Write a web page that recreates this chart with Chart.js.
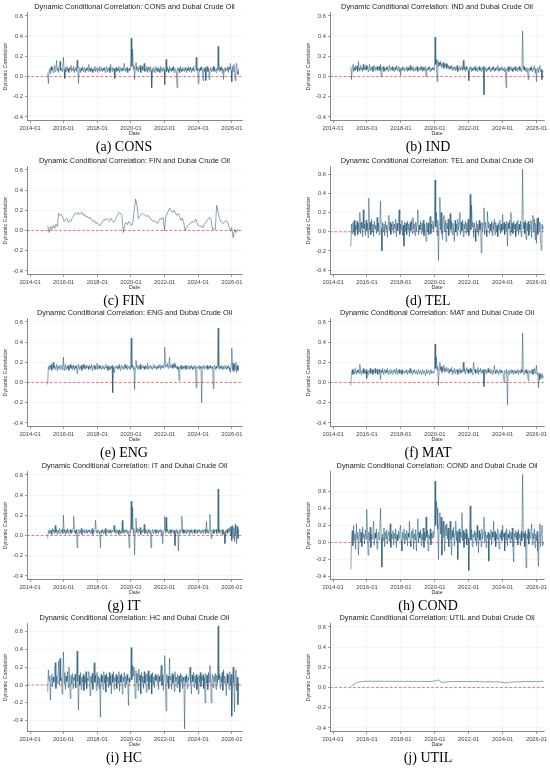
<!DOCTYPE html>
<html><head><meta charset="utf-8">
<script src="https://cdn.jsdelivr.net/npm/chart.js@4.4.1/dist/chart.umd.min.js"></script>
<style>
html,body{margin:0;padding:0;background:#fff;}
#fig{position:relative;width:550px;height:772px;overflow:hidden;background:#fff;}
#fig canvas{position:absolute;}
.cap{position:absolute;font-family:"Liberation Serif","Times New Roman",serif;font-size:14px;color:#000;white-space:nowrap;transform:translate(-50%,-50%);line-height:1;}
</style></head><body><div id="fig"></div>
<script>
// ---- axis ticks and date span ----
const xTicks = [2014, 2016, 2018, 2020, 2022, 2024, 2026];
const yTicks = [-0.4, -0.2, 0.0, 0.2, 0.4, 0.6];
const dateStart = 2015.05;
const dateEnd = 2026.40;

// ---- series values ----
const CONS = [
 0.04,-0.07,0.05,0.08,0.03,0.1,0.06,0.09,0.04,0.07,0.11,0.05,0.08,0.16,0.06,0.09,0.04,0.1,0.15,0.06,
 0.08,0.05,0.1,0.19,0.07,-0.02,0.09,0.05,0.1,0.06,0.08,0.04,0.09,0.07,0.11,0.05,0.08,0.06,0.1,0.04,
 0.07,0.09,0.05,0.16,0.08,-0.07,0.06,0.09,0.04,0.08,0.06,0.1,0.05,0.07,0.09,0.04,0.08,0.06,0.09,0.05,
 0.12,0.06,0.08,0.05,0.09,0.07,0.04,0.08,0.06,0.1,0.05,0.07,0.09,0.04,0.08,0.06,0.1,0.05,0.07,0.09,
 0.05,0.08,0.06,0.09,0.04,0.07,0.1,0.05,0.08,0.06,0.09,0.04,0.12,0.07,0.05,0.09,0.06,0.08,-0.02,0.07,
 0.09,0.05,0.08,0.06,0.1,0.04,0.07,0.09,0.05,0.08,0.06,0.1,0.13,0.05,0.08,0.06,0.09,0.04,0.07,0.08,
 0.06,0.09,0.38,0.1,0.27,0.07,0.11,-0.03,0.08,0.14,0.06,0.1,0.05,0.09,0.07,0.11,0.04,0.08,0.1,0.06,
 0.09,0.13,0.05,0.08,0.06,0.1,0.04,0.09,0.07,0.05,0.1,0.06,-0.11,0.08,0.05,0.09,0.07,0.04,0.1,0.06,
 0.08,0.05,0.09,0.07,0.04,0.1,0.06,0.08,0.05,0.09,0.07,-0.08,0.06,0.17,0.05,0.09,0.07,0.04,0.1,0.06,
 0.08,0.05,0.09,0.06,0.1,0.04,0.08,0.07,0.05,-0.11,0.09,0.06,0.08,0.04,0.1,0.07,0.05,0.09,0.06,0.08,
 0.05,0.09,0.07,0.04,0.08,0.06,0.1,0.05,0.09,0.07,0.04,0.08,0.06,0.1,0.05,0.07,0.09,0.19,0.06,0.08,
 -0.07,0.08,0.05,0.09,0.06,0.1,0.07,-0.04,0.08,0.05,0.09,-0.04,0.07,0.1,0.05,0.08,-0.03,0.06,0.09,0.05,
 0.08,0.06,0.1,0.05,0.09,0.07,0.04,0.08,0.06,0.3,0.07,0.05,0.09,0.06,0.1,0.04,0.08,-0.03,0.07,0.09,
 0.05,0.08,0.06,0.1,0.04,0.09,0.07,0.13,0.06,-0.05,0.1,0.05,0.12,0.07,-0.04,0.09,0.13,0.05,0.02,0.08
];
const IND = [
 0.1,-0.03,0.08,0.12,0.05,0.09,0.06,0.11,0.07,0.1,0.05,0.15,0.08,0.06,0.11,0.07,0.09,0.05,0.12,0.07,
 0.09,0.06,0.11,0.07,0.1,0.05,0.08,0.12,0.06,0.09,0.07,0.1,0.05,0.08,0.11,0.06,0.09,0.07,0.1,0.06,
 0.08,0.1,0.06,0.12,0.0,0.09,0.07,0.1,0.05,0.08,0.06,0.09,0.07,0.1,0.05,0.08,0.11,0.06,0.09,0.07,
 0.1,0.06,0.08,0.05,0.09,0.07,0.11,0.06,0.08,0.1,0.05,0.09,0.01,0.08,0.06,0.1,0.07,0.09,0.05,0.08,
 0.07,0.1,0.05,0.09,0.06,0.08,0.11,0.06,0.09,0.07,0.1,0.05,0.08,0.06,0.09,0.07,0.1,0.05,0.08,0.07,
 0.09,0.06,0.1,0.07,0.05,0.09,0.06,0.08,0.1,0.0,0.08,0.06,0.09,0.07,0.1,0.05,0.08,0.06,0.09,0.07,
 0.08,0.06,0.39,0.12,0.17,-0.05,0.16,0.1,0.14,0.11,0.15,0.09,0.13,0.1,0.14,0.08,0.12,0.1,0.13,0.08,
 0.12,0.08,0.11,0.07,0.1,0.08,0.11,0.06,0.09,0.07,0.1,0.06,0.09,0.07,0.11,0.05,0.08,0.07,0.1,0.06,
 0.08,0.1,0.06,0.16,0.07,0.09,0.05,0.1,0.07,0.08,0.06,-0.04,0.09,0.07,0.1,0.05,0.08,0.06,0.09,0.07,
 0.1,0.06,0.08,0.05,0.09,0.07,0.1,0.06,0.08,0.05,0.09,0.07,0.1,-0.18,0.07,0.09,0.05,0.08,0.06,0.09,
 0.07,0.1,0.05,0.08,0.06,0.09,0.07,0.1,0.05,0.08,0.06,0.09,0.07,0.11,0.05,0.08,0.06,0.09,0.07,0.1,
 0.06,0.08,0.05,0.09,0.07,-0.11,0.08,0.06,0.1,0.05,0.09,0.07,0.1,0.06,0.08,0.05,0.09,0.07,0.1,0.06,
 0.08,0.05,0.09,0.07,0.1,0.06,0.08,0.05,0.09,0.45,0.07,0.1,0.06,0.08,0.05,0.09,0.07,-0.03,0.08,0.06,
 0.09,0.06,0.1,0.05,0.08,0.07,0.11,0.04,0.08,-0.05,0.07,0.09,0.04,0.08,0.11,0.05,0.07,-0.03,0.06,0.05
];
const FIN = [
 0.05,-0.02,0.04,0.01,0.05,0.02,0.06,0.04,0.17,0.15,0.16,0.13,0.09,0.11,0.12,0.08,0.1,0.09,0.13,0.15,
 0.17,0.16,0.18,0.16,0.17,0.18,0.15,0.16,0.13,0.14,0.12,0.13,0.1,0.09,0.1,0.07,0.08,0.06,0.05,0.07,
 0.09,0.11,0.1,0.12,0.11,0.09,0.12,0.1,0.08,0.1,0.13,0.16,0.18,0.17,0.15,-0.02,0.05,0.08,0.06,0.09,
 0.07,0.05,0.08,0.2,0.31,0.25,0.12,0.14,0.16,0.17,0.16,0.15,0.14,0.15,0.13,0.12,0.1,0.09,0.1,0.08,
 0.07,0.1,0.12,0.11,0.13,0.0,0.14,0.17,0.2,0.22,0.19,0.18,0.2,0.17,0.15,0.17,0.14,0.1,0.12,0.08,
 0.0,0.03,0.05,0.06,0.07,0.09,0.08,0.1,0.11,0.06,0.05,0.04,0.05,0.03,0.06,0.08,0.1,0.12,0.13,0.1,
 0.01,0.02,0.01,0.25,0.19,0.12,0.09,0.08,0.07,0.09,0.1,0.08,0.04,0.0,0.03,-0.07,0.01,-0.02,0.01,0.0
];
const TEL = [
 -0.15,0.08,-0.02,0.1,0.0,0.12,-0.04,0.07,0.02,0.11,-0.03,0.09,0.01,0.2,-0.02,0.1,0.04,-0.05,0.23,0.03,
 0.08,-0.04,0.12,0.01,0.09,-0.06,0.35,0.02,0.1,-0.03,0.13,0.0,0.08,-0.05,0.11,0.03,0.07,-0.02,0.15,0.01,
 0.09,-0.03,0.12,0.32,0.04,-0.2,0.1,0.0,0.08,-0.04,0.11,0.02,0.07,-0.06,0.09,0.17,0.01,0.1,-0.03,0.08,
 0.02,0.11,-0.02,0.08,0.03,0.13,-0.05,0.09,0.01,0.1,0.23,-0.03,0.08,0.02,0.12,-0.04,0.07,-0.15,0.1,0.01,
 0.09,-0.03,0.11,0.02,0.08,-0.05,0.1,0.01,0.12,-0.02,0.15,0.03,0.08,-0.04,0.1,0.0,0.09,0.23,-0.03,0.07,
 0.02,0.11,-0.02,0.09,0.01,0.12,-0.04,0.08,0.03,-0.1,0.1,0.0,0.09,-0.03,0.12,0.16,-0.02,0.08,0.03,0.11,
 0.0,0.09,0.54,0.05,0.2,-0.04,0.12,-0.3,0.08,0.36,0.02,0.2,-0.02,-0.08,0.14,0.17,0.0,0.12,-0.1,0.09,
 0.03,0.13,-0.04,0.1,0.19,0.02,0.11,-0.03,0.09,0.01,-0.1,0.12,0.0,0.08,-0.04,0.13,0.02,0.09,0.2,-0.03,
 0.1,0.01,0.12,-0.05,0.08,0.03,0.11,-0.02,0.09,0.0,0.13,-0.04,0.07,0.39,0.02,0.28,0.05,0.1,-0.06,0.09,
 0.03,-0.1,0.11,0.0,0.08,-0.04,0.12,0.02,0.09,-0.22,0.1,0.01,0.08,0.25,-0.03,0.1,0.02,-0.05,0.21,0.04,
 0.1,-0.02,0.08,0.01,0.11,-0.04,0.09,0.02,0.13,-0.03,0.1,0.0,0.07,-0.05,0.09,0.02,0.12,-0.02,0.08,0.01,
 0.18,0.02,0.1,-0.03,0.08,0.01,0.11,-0.15,0.09,0.03,0.12,-0.04,0.2,0.0,0.09,-0.02,0.11,0.03,0.08,-0.05,
 0.1,0.01,0.12,-0.03,0.08,0.02,0.11,-0.05,0.09,0.65,0.03,0.1,-0.02,0.12,-0.08,0.09,0.01,0.11,-0.04,0.08,
 0.02,0.12,-0.06,0.1,0.17,0.0,0.13,-0.08,0.09,-0.12,0.14,-0.03,0.15,0.01,0.1,-0.09,-0.19,0.08,0.02,0.06
];
const ENG = [
 -0.02,0.16,0.13,0.17,0.14,0.18,0.12,0.16,0.2,0.14,0.17,0.13,0.15,0.18,0.12,0.16,0.14,0.17,0.13,0.15,
 0.17,0.13,0.16,0.25,0.12,0.15,0.18,0.13,0.16,0.14,0.17,0.12,0.15,0.18,0.14,0.16,0.13,0.17,0.15,0.12,
 0.16,0.14,0.17,0.09,0.15,0.18,0.13,0.16,0.14,0.17,0.12,0.15,0.18,0.14,0.16,0.13,0.17,0.15,0.14,0.16,
 0.13,0.17,0.15,0.14,0.18,0.12,0.16,0.15,0.17,0.13,0.16,0.14,0.19,0.13,0.15,0.17,0.14,0.16,0.13,0.15,
 0.17,0.14,0.16,0.13,0.15,0.18,0.14,0.16,0.12,0.17,0.15,0.13,0.16,0.14,0.17,-0.1,0.15,0.1,0.16,0.14,
 0.15,0.17,0.13,0.16,0.14,0.18,0.12,0.15,0.17,0.14,0.16,0.13,0.15,0.18,0.14,0.16,0.13,0.17,0.15,0.14,
 0.16,0.13,0.44,0.15,0.17,0.13,0.16,-0.07,0.14,0.22,0.15,0.17,0.13,0.16,0.14,0.18,0.13,0.16,0.15,0.17,
 0.14,0.16,0.13,0.17,0.15,0.14,0.19,0.13,0.16,0.15,0.17,0.14,0.16,0.13,0.15,0.18,0.14,0.16,0.15,0.13,
 0.16,0.14,0.17,0.15,0.18,0.13,0.16,0.15,0.17,0.14,0.18,0.35,0.15,0.17,0.16,0.19,0.14,0.17,0.25,0.15,
 0.17,0.15,0.18,0.14,0.16,0.19,0.15,0.17,0.14,0.16,0.13,0.15,0.02,0.16,0.14,0.17,0.13,0.15,0.16,0.14,
 0.15,0.17,0.13,0.16,0.14,0.17,0.15,0.13,0.16,0.14,0.17,0.15,0.13,0.16,0.14,0.17,0.15,-0.05,0.16,0.14,
 0.15,0.17,0.13,0.16,0.14,-0.2,0.16,0.15,0.17,0.13,0.15,0.16,0.14,0.17,0.13,0.15,0.16,0.14,0.17,0.15,
 0.14,0.16,-0.06,0.15,0.17,0.13,0.16,0.14,0.17,0.54,0.15,0.13,0.16,0.14,0.17,0.15,0.13,0.16,0.14,0.17,
 0.15,0.13,0.16,0.14,0.17,0.15,0.12,0.1,0.18,0.34,0.12,0.19,0.11,0.18,0.13,0.2,0.1,0.17,0.12,0.16
];
const MAT = [
 -0.03,0.1,0.13,0.08,0.12,0.09,0.14,0.11,0.08,0.12,0.1,0.13,0.09,0.18,0.11,0.08,0.12,0.1,0.14,0.09,
 0.12,0.09,0.13,0.04,0.11,0.08,0.12,0.1,0.14,0.09,0.11,0.13,0.08,0.12,0.1,0.14,0.09,0.11,0.13,0.08,
 0.11,0.13,0.09,0.03,0.12,0.1,0.14,0.08,0.11,0.13,0.09,0.12,0.1,0.14,0.08,0.11,0.12,0.09,0.13,0.1,
 0.08,0.12,0.1,0.13,0.09,0.11,0.14,0.08,0.12,0.1,0.13,0.09,0.11,0.12,0.08,0.13,0.1,0.11,0.09,0.12,
 0.1,0.13,0.08,0.11,0.12,0.09,0.14,0.1,0.11,0.08,0.12,0.1,0.13,0.09,0.11,0.12,0.08,0.1,0.13,0.09,
 0.11,0.12,0.08,0.1,0.13,0.09,0.11,0.12,0.07,0.1,0.13,0.09,0.11,0.12,0.08,0.1,0.13,0.09,0.11,0.1,
 0.09,0.11,0.38,0.14,0.25,0.12,0.16,-0.03,0.13,0.2,0.12,0.16,0.1,0.15,0.12,0.17,0.1,0.14,0.11,0.15,
 0.12,0.1,0.14,0.09,0.13,0.11,0.15,0.08,0.12,0.1,0.14,0.09,0.12,0.11,0.13,0.08,0.12,0.1,0.14,0.09,
 0.12,0.1,0.14,0.2,0.11,0.13,0.08,0.12,0.15,0.1,0.13,0.09,0.12,0.14,0.1,0.13,0.08,0.12,0.2,0.11,
 0.13,0.09,0.12,0.1,0.15,0.08,0.12,0.11,0.14,0.09,0.12,0.1,0.13,-0.04,0.11,0.13,0.09,0.12,0.1,0.14,
 0.1,0.12,0.09,0.13,0.11,0.08,0.12,0.1,0.17,0.11,0.09,0.13,0.1,0.12,0.08,0.11,0.13,0.09,0.12,0.1,
 0.11,0.08,0.0,0.12,0.1,0.09,0.13,-0.22,0.1,0.12,0.08,0.11,0.13,0.09,0.12,0.1,0.08,0.12,0.11,0.09,
 0.12,0.1,0.13,0.08,0.11,0.12,0.09,0.13,0.1,0.49,0.11,0.08,0.12,0.1,0.13,0.09,0.11,0.02,0.12,0.1,
 0.09,0.12,0.1,0.13,0.08,0.11,0.14,0.09,0.12,0.17,0.08,0.1,-0.05,0.09,0.03,0.08,0.05,0.09,0.04,0.07
];
const IT = [
 -0.03,0.05,0.02,0.06,0.03,0.05,0.01,0.07,0.04,0.06,0.02,0.1,0.03,0.06,0.01,0.05,0.03,0.07,0.02,0.05,
 0.04,0.06,0.02,0.2,0.03,0.06,0.01,0.05,0.03,0.07,0.02,0.05,0.04,0.06,0.02,0.05,0.03,0.07,0.19,0.03,
 0.05,0.02,0.06,-0.12,0.04,0.06,0.02,0.05,0.03,0.07,0.01,0.05,0.04,0.06,0.02,0.05,0.03,0.06,0.02,0.05,
 0.04,0.06,0.02,0.05,0.03,0.07,0.01,0.05,0.04,0.06,0.15,0.03,0.05,0.02,0.06,0.04,0.02,-0.12,0.05,0.03,
 0.06,0.02,0.05,0.03,0.07,0.01,0.05,0.04,0.06,0.02,0.05,0.03,0.06,0.02,0.05,0.04,0.06,0.1,0.03,0.05,
 0.02,0.06,0.03,0.05,0.01,0.06,0.04,0.02,0.05,0.15,0.03,0.06,0.02,0.05,0.04,0.06,0.02,0.05,0.03,-0.12,
 0.05,0.03,0.34,0.06,0.28,0.02,0.07,-0.19,0.04,0.17,0.03,0.07,0.02,0.06,0.04,0.08,0.01,0.05,0.03,0.06,
 0.04,0.11,0.02,0.06,0.03,0.05,0.01,0.06,0.04,0.02,0.05,-0.12,0.03,0.06,0.02,0.05,0.04,0.06,0.02,0.05,
 0.03,0.06,0.02,0.05,0.04,0.06,0.01,0.05,-0.08,0.03,0.06,0.19,0.02,0.18,0.04,0.06,0.02,0.05,0.03,0.06,
 0.02,0.05,0.04,0.06,0.02,0.05,-0.1,0.03,0.06,0.02,0.05,-0.15,0.04,0.06,0.02,0.05,0.19,0.03,0.06,0.02,
 0.05,0.03,0.06,0.02,0.05,0.04,0.06,0.01,0.05,0.03,0.06,0.02,0.05,0.04,0.06,0.02,0.05,0.03,0.06,0.02,
 0.05,0.04,0.06,0.02,0.05,0.03,0.06,0.02,0.05,0.04,0.06,0.02,0.14,0.03,0.06,0.02,0.05,0.21,0.04,-0.03,
 0.05,0.03,0.06,0.02,0.05,0.04,0.06,0.02,0.05,0.46,0.03,0.06,0.02,0.05,0.04,0.06,0.01,0.05,0.03,-0.08,
 0.05,0.03,0.06,0.02,0.07,0.04,0.08,0.0,0.09,-0.05,0.1,-0.02,0.08,-0.06,0.11,0.01,-0.08,0.09,-0.03,0.06
];
const COND = [
 -0.32,0.05,0.14,-0.04,0.2,0.02,0.1,-0.08,0.22,0.04,0.12,-0.15,0.08,0.16,0.0,0.12,-0.05,0.18,0.06,0.1,
 -0.02,0.15,0.04,0.39,0.08,-0.15,0.12,0.02,0.18,-0.06,0.1,0.04,0.14,0.25,-0.03,0.11,0.05,0.16,-0.08,0.09,
 0.12,0.03,0.15,0.4,0.06,-0.29,0.1,0.02,0.17,-0.05,0.12,0.04,0.15,-0.02,0.09,0.13,0.01,0.22,-0.06,0.1,
 0.05,0.14,-0.03,0.11,0.04,0.16,-0.06,0.09,0.02,0.13,0.05,0.15,0.2,0.03,-0.1,0.12,0.04,0.16,-0.02,0.1,
 0.03,0.14,-0.04,0.11,0.06,0.25,0.02,-0.05,0.13,0.05,0.16,-0.08,0.1,0.03,0.15,-0.1,0.09,0.28,0.0,0.12,
 0.05,0.15,-0.04,0.1,0.03,0.17,-0.06,0.12,0.02,0.3,0.06,0.14,-0.1,0.09,0.04,0.16,-0.03,0.11,0.05,0.13,
 0.06,0.12,0.72,0.2,0.48,0.4,0.15,-0.2,0.22,0.35,0.1,0.3,-0.15,0.18,0.25,0.06,-0.1,0.2,0.08,0.22,
 0.04,0.17,-0.05,0.12,0.25,0.03,-0.15,0.14,0.06,0.18,-0.04,0.1,0.25,0.02,0.13,-0.2,0.08,0.16,0.0,0.12,
 0.06,0.35,0.02,0.14,-0.06,0.11,0.04,0.16,-0.03,0.1,0.05,-0.33,0.12,0.43,0.03,0.15,-0.05,0.1,0.06,0.14,
 0.02,0.12,-0.04,0.2,0.06,-0.12,0.14,0.03,0.1,-0.05,0.16,0.04,0.11,0.3,0.0,0.13,-0.06,0.09,0.05,0.12,
 -0.22,0.1,0.04,0.15,-0.03,0.12,0.06,0.25,0.02,0.13,-0.05,0.1,0.04,0.16,0.01,-0.08,0.11,0.05,0.14,0.02,
 0.2,0.06,0.11,-0.1,0.13,0.03,0.16,-0.04,0.1,0.05,0.14,0.0,0.12,0.04,0.17,-0.05,-0.23,0.11,0.06,0.14,
 0.03,0.12,-0.03,0.15,0.05,0.1,-0.04,0.13,0.02,0.8,0.06,0.11,-0.05,0.14,-0.3,0.1,0.04,0.16,-0.02,0.12,
 0.05,0.14,0.22,-0.03,0.11,0.04,0.16,-0.06,0.1,0.02,0.13,-0.1,-0.28,0.08,0.22,-0.05,0.12,0.2,-0.04,0.0
];
const HC = [
 -0.08,0.17,0.05,0.1,-0.17,0.06,0.12,-0.02,0.09,0.03,0.14,0.25,-0.04,0.1,0.02,0.13,0.27,0.0,0.3,0.05,
 0.08,-0.1,0.12,0.37,0.02,0.14,-0.05,0.1,0.04,0.15,-0.03,0.2,0.06,-0.15,0.11,0.01,0.13,-0.04,0.09,0.05,
 0.12,-0.03,0.1,0.38,0.04,-0.28,0.11,0.0,0.14,-0.05,0.09,0.03,0.12,-0.06,0.1,0.02,0.15,-0.04,0.08,0.05,
 0.15,0.04,-0.12,0.1,0.02,0.13,-0.05,0.09,0.25,0.03,0.11,-0.06,0.14,0.01,0.1,-0.04,0.08,-0.36,0.12,0.03,
 0.1,-0.05,0.15,0.02,0.11,-0.08,0.13,0.04,0.09,-0.03,0.14,0.0,0.1,-0.1,0.12,0.03,0.15,-0.05,0.09,0.04,
 0.12,-0.04,0.1,0.02,0.15,-0.07,0.11,0.03,0.13,-0.1,0.09,0.04,0.14,-0.03,0.1,0.01,0.12,0.05,-0.23,0.08,
 0.03,0.12,0.42,0.06,0.22,0.1,0.2,0.04,-0.15,0.16,0.02,0.13,-0.06,0.18,0.05,0.11,-0.1,0.14,0.03,0.1,
 -0.04,0.15,0.02,0.11,-0.08,0.13,0.04,0.16,-0.05,0.1,0.03,0.12,-0.1,0.14,0.01,0.09,-0.03,0.12,0.05,0.1,
 0.02,0.12,-0.05,0.1,0.04,0.14,0.22,0.0,0.11,-0.06,0.13,0.33,0.03,-0.29,0.12,0.02,0.1,-0.04,0.3,0.06,
 0.1,-0.05,0.13,0.02,0.11,-0.07,0.15,0.04,0.09,-0.03,0.12,0.01,0.1,-0.08,0.13,0.03,0.11,-0.04,0.09,0.05,
 -0.49,0.1,0.03,0.12,-0.04,0.09,0.05,0.13,0.2,0.02,-0.1,0.11,0.04,0.14,-0.03,0.1,0.02,0.12,-0.05,0.09,
 -0.1,0.11,0.03,0.14,-0.02,0.1,0.05,0.12,-0.04,0.09,-0.2,0.13,0.02,0.11,-0.05,0.14,0.03,0.22,0.06,-0.2,
 0.08,0.12,-0.03,0.1,0.04,0.13,-0.05,0.11,0.02,0.66,0.06,0.12,-0.04,0.1,0.03,0.14,-0.06,0.17,0.02,0.1,
 0.04,-0.12,0.13,0.02,0.11,-0.05,0.15,0.0,0.12,-0.35,0.08,0.2,0.02,-0.3,0.1,0.17,-0.06,0.09,-0.22,0.03
];
const UTIL = [
 0.008,0.035,0.052,0.058,0.061,0.062,0.063,0.062,0.063,0.062,
 0.062,0.061,0.062,0.061,0.062,0.061,0.06,0.061,0.06,0.061,
 0.06,0.061,0.06,0.06,0.061,0.066,0.075,0.048,0.055,0.058,
 0.059,0.06,0.059,0.06,0.059,0.06,0.058,0.059,0.058,0.057,
 0.056,0.058,0.056,0.057,0.055,0.05,0.046,0.052,0.055,0.056,
 0.057,0.058,0.06,0.059,0.06,0.057,0.061,0.06
];

// ---- panel layout ----
const rowTitleY = [7, 161, 313, 466, 618];
const columns = [
  {left: 0, width: 248, padRight: 6, xMin: 2013.82, xMax: 2026.6, capX: 124},
  {left: 303, width: 247, padRight: 6, xMin: 2013.82, xMax: 2026.44, capX: 428}
];
const panels = [
  {name: 'CONS', letter: 'a', values: CONS, col: 0, row: 0, yMin: -0.43, yMax: 0.63},
  {name: 'IND',  letter: 'b', values: IND,  col: 1, row: 0, yMin: -0.43, yMax: 0.63},
  {name: 'FIN',  letter: 'c', values: FIN,  col: 0, row: 1, yMin: -0.43, yMax: 0.63},
  {name: 'TEL',  letter: 'd', values: TEL,  col: 1, row: 1, yMin: -0.44, yMax: 0.676},
  {name: 'ENG',  letter: 'e', values: ENG,  col: 0, row: 2, yMin: -0.43, yMax: 0.63},
  {name: 'MAT',  letter: 'f', values: MAT,  col: 1, row: 2, yMin: -0.43, yMax: 0.63},
  {name: 'IT',   letter: 'g', values: IT,   col: 0, row: 3, yMin: -0.43, yMax: 0.63},
  {name: 'COND', letter: 'h', values: COND, col: 1, row: 3, yMin: -0.43, yMax: 0.83},
  {name: 'HC',   letter: 'i', values: HC,   col: 0, row: 4, yMin: -0.515, yMax: 0.685},
  {name: 'UTIL', letter: 'j', values: UTIL, col: 1, row: 4, yMin: -0.43, yMax: 0.63}
];

Chart.defaults.font.family = '"Liberation Sans", Arial, sans-serif';

function toPoints(vals) {
  const n = vals.length;
  return vals.map((v, i) => ({x: dateStart + (dateEnd - dateStart) * i / (n - 1), y: v}));
}

const fig = document.getElementById('fig');
panels.forEach(p => {
  const c = columns[p.col];
  const T = rowTitleY[p.row];
  const cv = document.createElement('canvas');
  cv.width = c.width; cv.height = 139;
  cv.style.left = c.left + 'px';
  cv.style.top = (T - 6) + 'px';
  cv.style.width = c.width + 'px'; cv.style.height = '139px';
  fig.appendChild(cv);

  const cap = document.createElement('div');
  cap.className = 'cap';
  cap.textContent = '(' + p.letter + ') ' + p.name;
  cap.style.left = c.capX + 'px';
  cap.style.top = (T + 140) + 'px';
  fig.appendChild(cap);

  new Chart(cv, {
    type: 'line',
    data: {
      datasets: [
        {data: toPoints(p.values), borderColor: 'rgba(14,72,110,0.66)', borderWidth: 0.75,
         pointRadius: 0, tension: 0, fill: false},
        {data: [{x: c.xMin, y: 0}, {x: c.xMax, y: 0}], borderColor: 'rgba(232,64,64,0.8)',
         borderWidth: 0.9, borderDash: [2.6, 2], pointRadius: 0, fill: false}
      ]
    },
    options: {
      responsive: false, animation: false, events: [],
      layout: {padding: {left: 0, right: c.padRight, top: 0, bottom: 0}},
      plugins: {
        legend: {display: false}, tooltip: {enabled: false},
        title: {display: true, fullSize: false,
          text: 'Dynamic Conditional Correlation: ' + p.name + ' and Dubai Crude Oil',
          font: {size: 7.4, weight: 'normal', lineHeight: 1.2}, color: '#222',
          padding: {top: 1.5, bottom: 1.5}}
      },
      scales: {
        x: {
          type: 'linear', min: c.xMin, max: c.xMax,
          afterBuildTicks: s => { s.ticks = xTicks.map(v => ({value: v})); },
          afterFit: s => { s.height = 20; },
          ticks: {callback: v => v + '-01', font: {size: 5.8}, color: '#444', padding: 2,
                  maxRotation: 0, autoSkip: false},
          grid: {color: 'rgba(0,0,0,0.07)', lineWidth: 0.5, tickColor: '#555', tickLength: 3, tickWidth: 0.6},
          border: {display: true, color: '#555', width: 0.7},
          title: {display: true, text: 'Date', font: {size: 5.3}, color: '#333', padding: {top: 0, bottom: 2.8}}
        },
        y: {
          min: p.yMin, max: p.yMax,
          afterBuildTicks: s => { s.ticks = yTicks.map(v => ({value: v})); },
          afterFit: s => { s.width = 27; },
          ticks: {callback: v => v.toFixed(1), font: {size: 5.8}, color: '#444', padding: 2},
          grid: {color: 'rgba(0,0,0,0.07)', lineWidth: 0.5, tickColor: '#555', tickLength: 2, tickWidth: 0.6},
          border: {display: true, color: '#555', width: 0.7},
          title: {display: true, text: 'Dynamic Correlation', font: {size: 5.3}, color: '#333',
                  padding: {top: 2.8, bottom: 0}}
        }
      }
    }
  });
});
</script></body></html>
